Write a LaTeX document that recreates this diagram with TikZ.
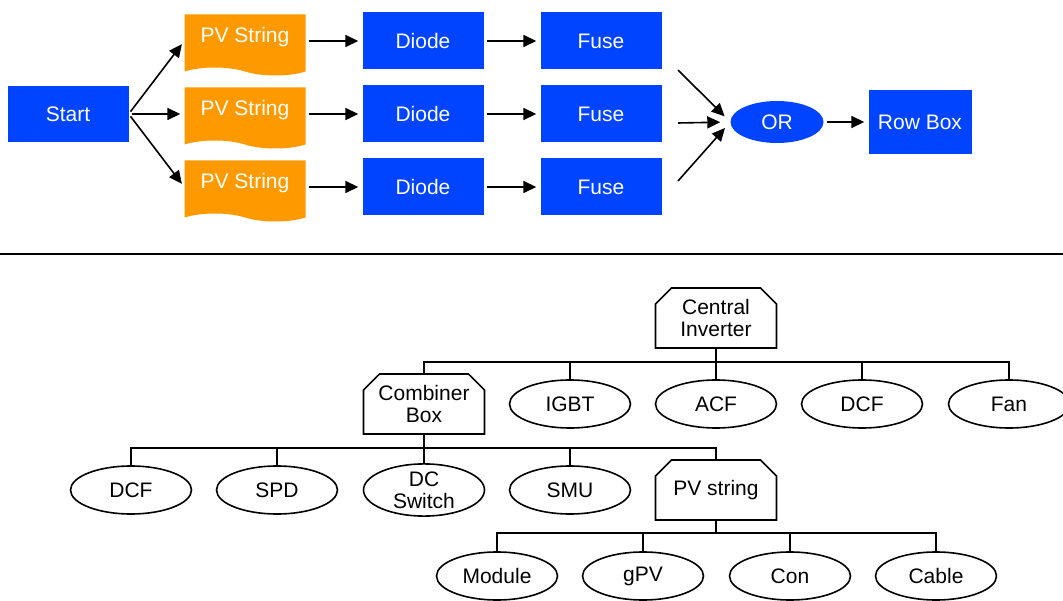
\documentclass[tikz,border=0pt]{standalone}
\usepackage{fontspec}
\setmainfont{Liberation Sans}
\usetikzlibrary{arrows.meta,positioning,shapes.geometric,shapes.misc,shapes.symbols}
\definecolor{flowblue}{RGB}{0,68,255}
\definecolor{pvorange}{RGB}{255,153,0}

\begin{document}
\begin{tikzpicture}[x=1pt,y=-1pt,>={Triangle[length=13pt,width=12pt]},
    every node/.style={font=\fontsize{21}{22}\selectfont,inner sep=0pt,align=center},
    bluebox/.style={rectangle,fill=flowblue,text=white,minimum width=121pt,minimum height=57pt},
    pvtape/.style={tape,tape bend top=none,tape bend bottom=out and in,tape bend height=8pt,
      fill=pvorange,text=white,minimum width=121pt,minimum height=61pt,text depth=12pt},
    flow/.style={->,line width=1.6pt,shorten <=3pt,shorten >=4pt},
    partbox/.style={chamfered rectangle,chamfered rectangle corners={north west,north east},
      chamfered rectangle sep=8pt,draw,line width=1.6pt,minimum width=121pt,minimum height=60pt},
    part/.style={ellipse,draw,line width=1.6pt,minimum width=121pt,minimum height=48pt},
    tree/.style={line width=1.6pt}]
  \useasboundingbox (0,0) rectangle (1063,601);
  % row box flow
  \node[bluebox,minimum height=56pt] (start) at (68,114) {Start};
  \node[pvtape] (pv1) at (245,41) {PV String};
  \node[pvtape] (pv2) at (245,114) {PV String};
  \node[pvtape] (pv3) at (245,187) {PV String};
  \node[bluebox] (diode1) at (423,41) {Diode};
  \node[bluebox] (diode2) at (423,114) {Diode};
  \node[bluebox] (diode3) at (423,187) {Diode};
  \node[bluebox] (fuse1) at (601,41) {Fuse};
  \node[bluebox] (fuse2) at (601,114) {Fuse};
  \node[bluebox] (fuse3) at (601,187) {Fuse};
  \node[ellipse,fill=flowblue,text=white,minimum width=93pt,minimum height=42pt] (or) at (777,122) {OR};
  \node[bluebox,minimum width=103pt,minimum height=64pt] (rowbox) at (920,122) {Row Box};
  \coordinate (in1) at (678,70);
  \coordinate (in2) at (678,123);
  \coordinate (in3) at (678,181);
  \draw[flow] (start.east) -- (pv1.west);
  \draw[flow] (start.east) -- (pv2.west);
  \draw[flow] (start.east) -- (pv3.west);
  \draw[flow] (pv1.east) -- (diode1.west);
  \draw[flow] (pv2.east) -- (diode2.west);
  \draw[flow] (pv3.east) -- (diode3.west);
  \draw[flow] (diode1.east) -- (fuse1.west);
  \draw[flow] (diode2.east) -- (fuse2.west);
  \draw[flow] (diode3.east) -- (fuse3.west);
  \draw[flow,shorten <=0pt,shorten >=8pt] (in1) -- (or.west);
  \draw[flow,shorten <=0pt,shorten >=10pt] (in2) -- (or.west);
  \draw[flow,shorten <=0pt,shorten >=8pt] (in3) -- (or.west);
  \draw[flow] (or.east) -- (rowbox.west);
  \draw[line width=1.6pt] (0,254) -- (1063,254);
  % fault tree
  \node[partbox] (inv) at (716,318) {Central\\Inverter};
  \node[partbox] (comb) at (424,404) {Combiner\\Box};
  \node[part] (igbt) at (570,404) {IGBT};
  \node[part] (acf) at (716,404) {ACF};
  \node[part] (dcfa) at (862,404) {DCF};
  \node[part] (fan) at (1009,404) {Fan};
  \node[part] (dcfb) at (131,490) {DCF};
  \node[part] (spd) at (277,490) {SPD};
  \node[part] (dcsw) at (424,490) {DC\\Switch};
  \node[part] (smu) at (570,490) {SMU};
  \node[partbox] (pvs) at (716,490) {PV string};
  \node[part] (module) at (497,576) {Module};
  \node[part] (gpv) at (643,576) {gPV};
  \node[part] (con) at (790,576) {Con};
  \node[part] (cable) at (936,576) {Cable};
  \draw[tree] (inv.south) -- ++(0,13) -| (comb.north);
  \draw[tree] (inv.south) -- ++(0,13) -| (igbt.north);
  \draw[tree] (inv.south) -- ++(0,13) -| (acf.north);
  \draw[tree] (inv.south) -- ++(0,13) -| (dcfa.north);
  \draw[tree] (inv.south) -- ++(0,13) -| (fan.north);
  \draw[tree] (comb.south) -- ++(0,13) -| (dcfb.north);
  \draw[tree] (comb.south) -- ++(0,13) -| (spd.north);
  \draw[tree] (comb.south) -- ++(0,13) -| (dcsw.north);
  \draw[tree] (comb.south) -- ++(0,13) -| (smu.north);
  \draw[tree] (comb.south) -- ++(0,13) -| (pvs.north);
  \draw[tree] (pvs.south) -- ++(0,12) -| (module.north);
  \draw[tree] (pvs.south) -- ++(0,12) -| (gpv.north);
  \draw[tree] (pvs.south) -- ++(0,12) -| (con.north);
  \draw[tree] (pvs.south) -- ++(0,12) -| (cable.north);
\end{tikzpicture}
\end{document}
